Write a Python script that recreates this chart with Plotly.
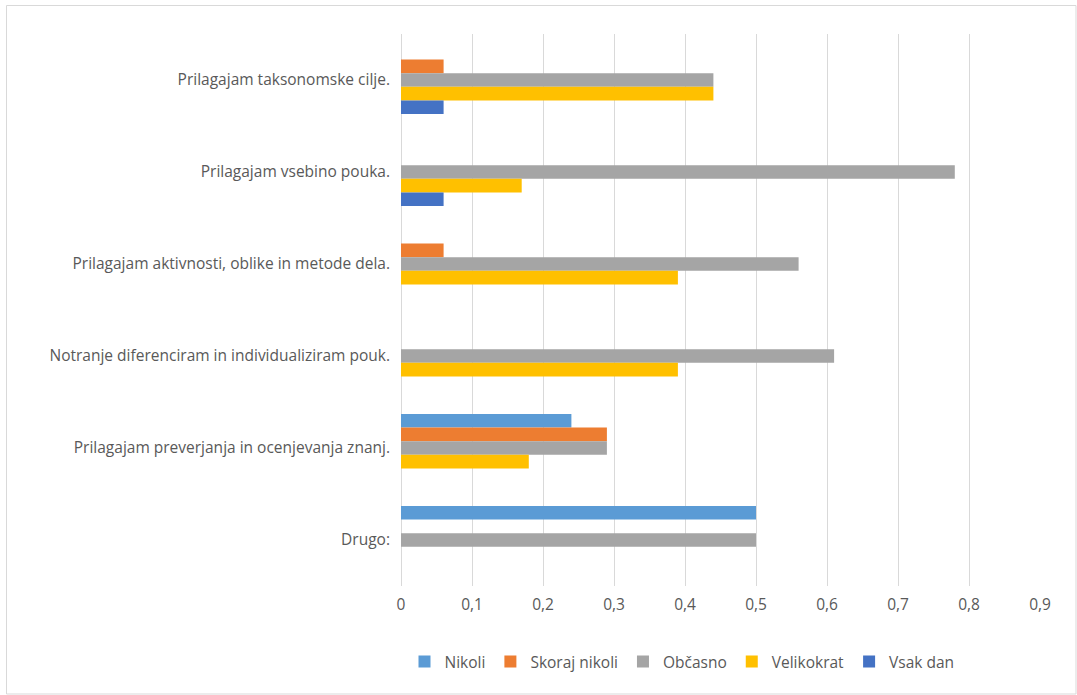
import plotly.graph_objects as go

categories = [
    "Prilagajam taksonomske cilje.",
    "Prilagajam vsebino pouka.",
    "Prilagajam aktivnosti, oblike in metode dela.",
    "Notranje diferenciram in individualiziram pouk.",
    "Prilagajam preverjanja in ocenjevanja znanj.",
    "Drugo:",
]
series_names = ["Nikoli", "Skoraj nikoli", "Občasno", "Velikokrat", "Vsak dan"]
nikoli = [0, 0, 0, 0, 0.24, 0.5]
skoraj_nikoli = [0.06, 0, 0.06, 0, 0.29, 0]
obcasno = [0.44, 0.78, 0.56, 0.61, 0.29, 0.5]
velikokrat = [0.44, 0.17, 0.39, 0.39, 0.18, 0]
vsak_dan = [0.06, 0.06, 0, 0, 0, 0]
tick_vals = [0, 0.1, 0.2, 0.3, 0.4, 0.5, 0.6, 0.7, 0.8, 0.9]

colors = ["#5B9BD5", "#ED7D31", "#A5A5A5", "#FFC000", "#4472C4"]
values = [nikoli, skoraj_nikoli, obcasno, velikokrat, vsak_dan]

W, H = 1077, 695
L, R, T, B = 401, 37, 34, 109

fig = go.Figure()
for name, vals, col in zip(series_names, values, colors):
    fig.add_trace(go.Bar(
        y=categories, x=vals, name=name, orientation="h",
        marker=dict(color=col, line=dict(width=0)),
    ))

font_family = "Open Sans, Liberation Sans, sans-serif"
fs = 15.5
pw = W - L - R
ph = H - T - B

fig.update_layout(
    width=W, height=H,
    margin=dict(l=L, r=R, t=T, b=B, pad=0),
    barmode="group", bargap=0.26, bargroupgap=0,
    paper_bgcolor="white", plot_bgcolor="white",
    separators=", ",
    font=dict(family=font_family, size=fs, color="#595959"),
    xaxis=dict(range=[0, 0.9], tickvals=tick_vals, showgrid=True,
               gridcolor="#D9D9D9", gridwidth=1, zeroline=True,
               zerolinecolor="#D9D9D9", zerolinewidth=1, showline=False,
               ticks="", tickfont=dict(size=fs, color="#595959"),
               ticklabelstandoff=7),
    yaxis=dict(autorange="reversed", showgrid=False, ticks="",
               showline=False, tickfont=dict(size=fs, color="#595959"),
               ticklabelstandoff=10),
    legend=dict(orientation="h", x=(682 - L) / pw, xanchor="center",
                y=(H - B - 662) / ph, yanchor="middle",
                font=dict(size=fs, color="#595959"),
                itemwidth=30, traceorder="normal"),
    showlegend=True,
)

# outer chart border
fig.add_shape(type="rect", xref="paper", yref="paper",
              x0=(6.5 - L) / pw, x1=(1076 - L) / pw,
              y0=(H - B - 694) / ph, y1=(H - B - 5.5) / ph,
              line=dict(color="#D9D9D9", width=1), fillcolor="rgba(0,0,0,0)",
              layer="below")

fig.write_html("out.html")
